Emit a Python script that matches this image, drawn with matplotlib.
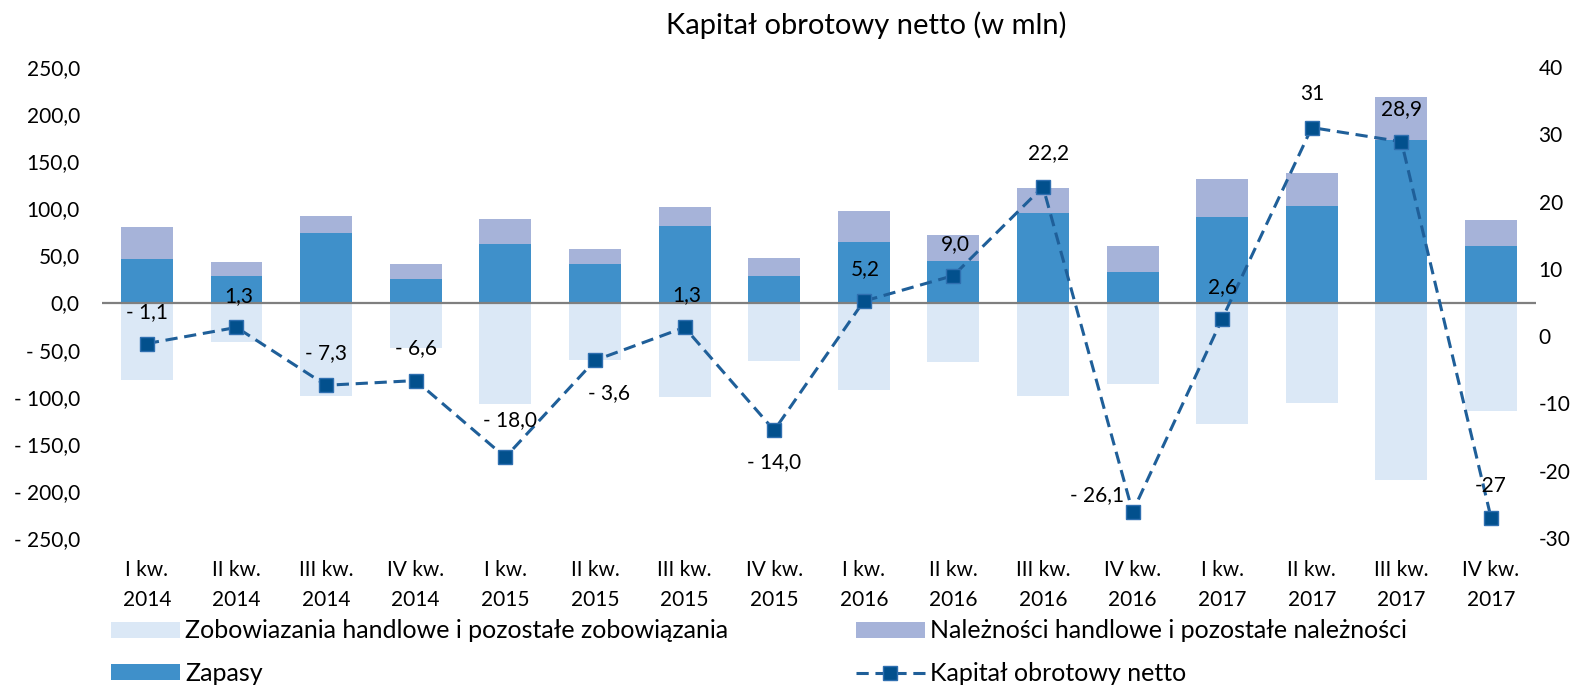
import numpy as np
import matplotlib
matplotlib.use("Agg")
import matplotlib.pyplot as plt
from matplotlib.patches import Patch
from matplotlib.lines import Line2D
from matplotlib.transforms import blended_transform_factory

plt.rcParams['font.family'] = ['Lato', 'DejaVu Sans']

quarters = ["I kw.", "II kw.", "III kw.", "IV kw."] * 4
years = ["2014"] * 4 + ["2015"] * 4 + ["2016"] * 4 + ["2017"] * 4
zapasy = [45.7, 28.4, 73.4, 25.2, 62.4, 40.4, 80.9, 28.0,
          64.2, 43.6, 95.4, 32.3, 91.1, 102.1, 173.0, 59.6]
naleznosci = [34.8, 14.9, 18.8, 15.9, 26.6, 16.3, 20.9, 19.5,
              33.3, 28.4, 26.6, 27.3, 40.1, 35.8, 44.7, 28.0]
zobowiazania = [-81.9, -42.2, -99.3, -47.9, -107.4, -60.6, -100.7, -62.1,
                -92.9, -63.1, -99.6, -86.2, -128.7, -107.1, -188.7, -114.9]
kapital = [-1.1, 1.3, -7.3, -6.6, -18.0, -3.6, 1.3, -14.0,
           5.2, 9.0, 22.2, -26.1, 2.6, 31, 28.9, -27]
kapital_labels = ["- 1,1", "1,3", "- 7,3", "- 6,6", "- 18,0", "- 3,6", "1,3", "- 14,0",
                  "5,2", "9,0", "22,2", "- 26,1", "2,6", "31", "28,9", "-27"]
left_ticks = [250, 200, 150, 100, 50, 0, -50, -100, -150, -200, -250]
right_ticks = [40, 30, 20, 10, 0, -10, -20, -30]

# label offsets (pixels) relative to point
label_offsets = [(0, 31), (2, 31), (0, 32), (0, 32), (5, 37), (14, -33), (2, 32), (0, -32),
                 (2, 32), (2, 32), (6, 34), (-36, 17), (0, 32), (0, 34), (0, 33), (0, 32)]

c_zap = '#3F90CA'
c_nal = '#A6B3D9'
c_zob = '#DBE8F6'
c_line = '#1F5F99'
c_mark = '#02508D'

H = 688.0
fig = plt.figure(figsize=(15.85, 6.88), dpi=100)
ax = fig.add_axes([0.0644, 0.218, 0.969 - 0.0644, 0.9026 - 0.218])
x = np.arange(len(quarters))
w = 0.58
ax.bar(x, zobowiazania, width=w, color=c_zob, zorder=2)
ax.bar(x, zapasy, width=w, color=c_zap, zorder=2)
ax.bar(x, naleznosci, width=w, bottom=zapasy, color=c_nal, zorder=2)
ax.axhline(0, color='#7F7F7F', lw=1.6, zorder=3)

ax.set_xlim(-0.5, len(quarters) - 0.5)
ax.set_ylim(-250, 250)
ax.set_yticks(left_ticks)

def fmt_left(v):
    s = f"{abs(v):.1f}".replace('.', ',')
    return ("- " + s) if v < 0 else s

ax.set_yticklabels([fmt_left(v) for v in left_ticks])
ax.set_xticks([])
ax.tick_params(axis='y', length=0, pad=16, labelsize=15)
for s in ax.spines.values():
    s.set_visible(False)

# category labels (two rows)
trans = blended_transform_factory(ax.transData, fig.transFigure)
for xi, q, yr in zip(x, quarters, years):
    ax.text(xi, 1 - 576.5 / H, q, transform=trans, ha='center', va='baseline', fontsize=15)
    ax.text(xi, 1 - 606.5 / H, yr, transform=trans, ha='center', va='baseline', fontsize=15)

ax2 = ax.twinx()
ax2.set_ylim(-30, 40)
ax2.set_yticks(right_ticks)
ax2.set_yticklabels([str(v) for v in right_ticks])
ax2.tick_params(axis='y', length=0, pad=2, labelsize=15)
for s in ax2.spines.values():
    s.set_visible(False)
ax2.plot(x, kapital, ls=(0, (4, 2.2)), lw=2.2, color=c_line, marker='s', ms=10,
         mfc=c_mark, mec='#2F6FB0', mew=1.0, zorder=5)
for xi, yi, lab, off in zip(x, kapital, kapital_labels, label_offsets):
    ax2.annotate(lab, (xi, yi), xytext=off, textcoords='offset pixels',
                 ha='center', va='center', fontsize=15, color='#000000', zorder=6)

fig.text(866 / 1585, 1 - 34.3 / H, "Kapitał obrotowy netto (w mln)", ha='center',
         va='baseline', fontsize=21)

handles = [Patch(facecolor=c_zob), Patch(facecolor=c_zap),
           Patch(facecolor=c_nal),
           Line2D([0], [0], ls=(0, (4, 2.2)), lw=2.2, color=c_line, marker='s', ms=10,
                  mfc=c_mark, mec='#2F6FB0')]
labels = ["Zobowiazania handlowe i pozostałe zobowiązania", "Zapasy",
          "Należności handlowe i pozostałe należności", "Kapitał obrotowy netto"]
fig.legend(handles, labels, ncol=2, loc='upper left', bbox_to_anchor=(0.070, 1 - 619.5 / H),
           frameon=False, fontsize=18, handlelength=2.76, handleheight=0.6,
           handletextpad=0.2, columnspacing=5.1, labelspacing=0.78,
           borderpad=0, borderaxespad=0)

fig.savefig('out.png', dpi=100)
